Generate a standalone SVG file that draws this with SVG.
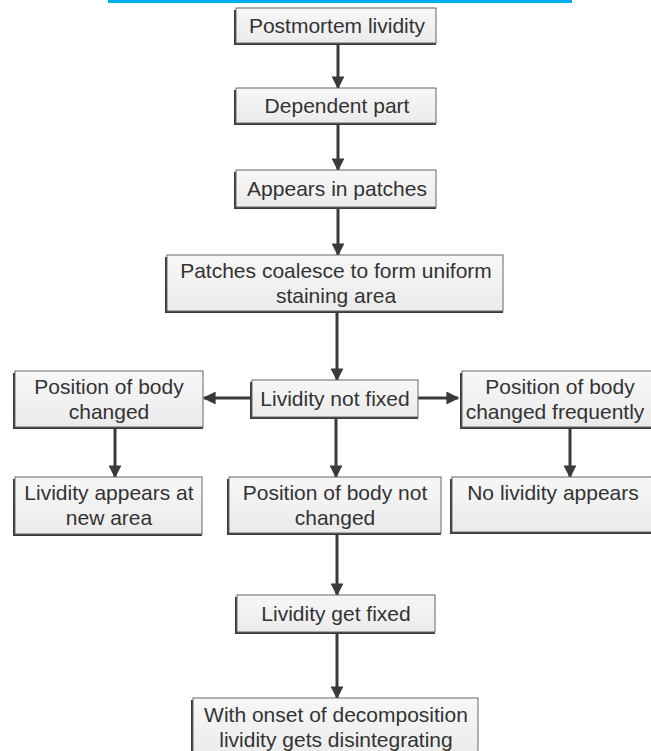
<svg xmlns="http://www.w3.org/2000/svg" width="651" height="751" viewBox="0 0 651 751">
<defs>
<linearGradient id="g" x1="0" y1="0" x2="0" y2="1"><stop offset="0" stop-color="#f7f7f7"/><stop offset="1" stop-color="#ebebeb"/></linearGradient>
<marker id="ah" viewBox="0 0 10 10" refX="9" refY="5" markerWidth="4.3" markerHeight="4.3" orient="auto" markerUnits="strokeWidth"><path d="M0,0 L10,5 L0,10 z" fill="#3a3a3a"/></marker>
</defs>
<style>
.sh{fill:#3a3a3a}
.bx{fill:url(#g);stroke:#666;stroke-width:1}
.t{font-family:"Liberation Sans",Arial,sans-serif;font-size:21px;fill:#333;text-anchor:middle}
.c{stroke:#3a3a3a;stroke-width:3;fill:none;marker-end:url(#ah)}
</style>
<rect width="651" height="751" fill="#fff"/>
<rect x="108" y="0" width="464" height="3" fill="#00aeef"/>
<g id="connectors">
<line class="c" x1="338" y1="44" x2="338" y2="88"/>
<line class="c" x1="338" y1="125" x2="338" y2="170"/>
<line class="c" x1="338" y1="209" x2="338" y2="255"/>
<line class="c" x1="337" y1="313" x2="337" y2="380"/>
<line class="c" x1="252" y1="398" x2="204" y2="398"/>
<line class="c" x1="418" y1="398" x2="458" y2="398"/>
<line class="c" x1="115" y1="429" x2="115" y2="477"/>
<line class="c" x1="336" y1="419" x2="336" y2="477"/>
<line class="c" x1="570" y1="429" x2="570" y2="477"/>
<line class="c" x1="337" y1="535" x2="337" y2="595"/>
<line class="c" x1="337" y1="634" x2="337" y2="698"/>
</g>
<g id="n1"><rect class="sh" x="234" y="10" width="202" height="35"/><rect class="bx" x="236" y="8" width="200" height="35"/><text class="t" x="337" y="33">Postmortem lividity</text></g>
<g id="n2"><rect class="sh" x="234" y="90" width="202" height="35"/><rect class="bx" x="236" y="88" width="200" height="35"/><text class="t" x="337" y="113">Dependent part</text></g>
<g id="n3"><rect class="sh" x="234" y="172" width="202" height="37"/><rect class="bx" x="236" y="170" width="200" height="37"/><text class="t" x="337" y="196">Appears in patches</text></g>
<g id="n4"><rect class="sh" x="165" y="257" width="338" height="56"/><rect class="bx" x="167" y="255" width="336" height="56"/><text class="t" x="336" y="278">Patches coalesce to form uniform</text><text class="t" x="336" y="303">staining area</text></g>
<g id="n5"><rect class="sh" x="250" y="382" width="168" height="37"/><rect class="bx" x="252" y="380" width="166" height="37"/><text class="t" x="335" y="406">Lividity not fixed</text></g>
<g id="n6"><rect class="sh" x="13" y="373" width="190" height="56"/><rect class="bx" x="15" y="371" width="188" height="56"/><text class="t" x="109" y="394">Position of body</text><text class="t" x="109" y="419">changed</text></g>
<g id="n7"><rect class="sh" x="460" y="373" width="200" height="56"/><rect class="bx" x="462" y="371" width="200" height="56"/><text class="t" x="560" y="394">Position of body</text><text class="t" x="555" y="419">changed frequently</text></g>
<g id="n8"><rect class="sh" x="13" y="479" width="189" height="57"/><rect class="bx" x="15" y="477" width="187" height="57"/><text class="t" x="109" y="500">Lividity appears at</text><text class="t" x="109" y="525">new area</text></g>
<g id="n9"><rect class="sh" x="227" y="479" width="214" height="56"/><rect class="bx" x="229" y="477" width="212" height="56"/><text class="t" x="335" y="500">Position of body not</text><text class="t" x="335" y="525">changed</text></g>
<g id="n10"><rect class="sh" x="450" y="479" width="210" height="55"/><rect class="bx" x="452" y="477" width="210" height="55"/><text class="t" x="553" y="500">No lividity appears</text></g>
<g id="n11"><rect class="sh" x="235" y="597" width="200" height="37"/><rect class="bx" x="237" y="595" width="198" height="37"/><text class="t" x="336" y="621">Lividity get fixed</text></g>
<g id="n12"><rect class="sh" x="191" y="700" width="287" height="60"/><rect class="bx" x="193" y="698" width="285" height="60"/><text class="t" x="336" y="722">With onset of decomposition</text><text class="t" x="336" y="747">lividity gets disintegrating</text></g>
</svg>
